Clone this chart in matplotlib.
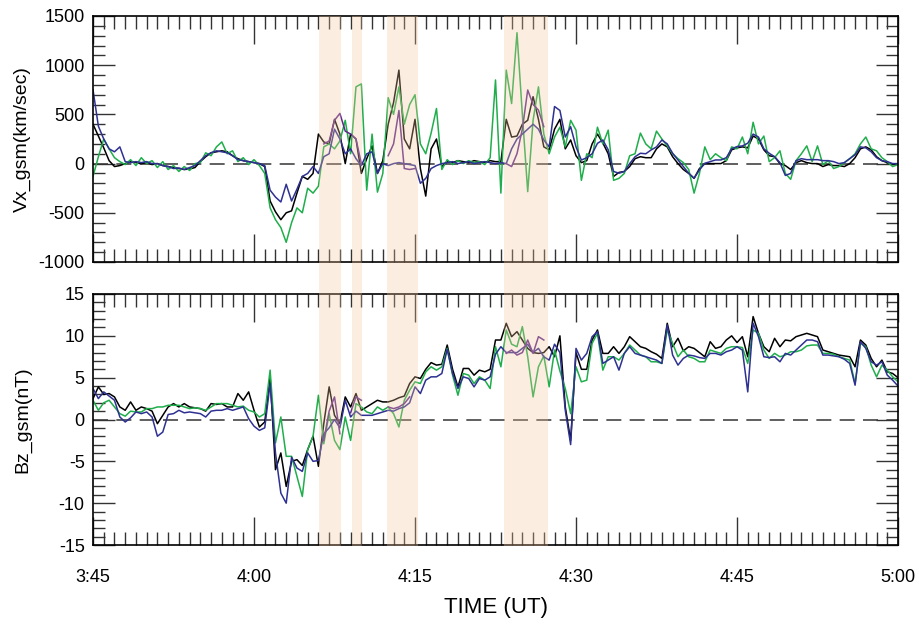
import numpy as np
import matplotlib
matplotlib.use("Agg")
import matplotlib.pyplot as plt
import matplotlib.transforms as mtransforms
from matplotlib.patches import Rectangle
from matplotlib.ticker import MultipleLocator

plt.rcParams['font.family'] = ['Liberation Sans Narrow', 'Liberation Sans', 'DejaVu Sans']
plt.rcParams['axes.unicode_minus'] = False

# minutes after 03:45 UT, 30 s cadence
minutes = np.arange(0, 75.5, 0.5)
tick_minutes = [0, 15, 30, 45, 60, 75]
tick_labels = ["3:45", "4:00", "4:15", "4:30", "4:45", "5:00"]

# shaded intervals (start, end) in minutes after 03:45
bands = [(21.06, 23.09), (24.13, 25.1), (27.4, 30.3), (38.3, 42.35)]

# Vx_gsm (km/s)
vx_black = [
    400, 280, 160, 30, -30, -20, 0, 20, 10, 0,
    10, -10, 0, -20, -30, -40, -50, -60, -55, -40,
    20, 70, 110, 120, 130, 120, 80, 50, 30, 20,
    10, 0, -30, -380, -490, -570, -500, -480, -300, -130,
    -160, -100, 300, 220, 200, 450, 300, 0, 300, 250,
    -100, 50, 180, -100, 30, 400, 620, 950, 250, 150,
    450, -50, -330, 150, 250, -30, 20, 10, 30, 20,
    10, 30, 20, 10, 30, 20, 20, 450, 270, 280,
    400, 440, 680, 450, 170, 140, 350, 450, 150, 240,
    80, 10, 30, 200, 300, 210, 100, -130, -90, -80,
    -30, 50, 70, 60, 60, 150, 200, 170, 70, 0,
    -60, -100, -150, -50, 0, 0, 0, 0, 30, 140,
    160, 170, 160, 280, 250, 140, 80, 70, 0, -20,
    -60, 10, 30, 10, 0, 0, -30, -10, -20, -20,
    -30, 0, 60, 150, 170, 140, 70, 30, 10, -10,
    0]
vx_blue = [
    750, 380, 250, 150, 120, 170, 20, 10, 20, 10,
    20, 0, 0, -20, -30, -50, -45, -60, -40, -20,
    30, 80, 110, 130, 120, 110, 80, 40, 30, 20,
    10, 0, -20, -270, -340, -390, -210, -380, -260, -130,
    -100, -30, -100, 70, 100, 350, 250, 100, 150, 50,
    -20, 100, 120, -100, 0, -20, 0, 10, 0, -10,
    -20, -200, -150, -50, -20, 0, 10, 20, 0, 10,
    20, 0, 10, 20, 10, 0, 10, 0, 150, 250,
    300, 350, 400, 350, 240, 170, 580, 540, 270, 375,
    170, 36, 60, 100, 206, 240, 140, -80, -98, -80,
    0, 70, 105, 100, 139, 170, 240, 200, 105, 37,
    -30, -98, -149, -64, 3, 20, 37, 37, 60, 150,
    173, 180, 207, 300, 270, 150, 105, 70, 10, -120,
    -100, 30, 50, 40, 40, 40, 30, 30, 20, 0,
    10, 50, 90, 170, 160, 120, 60, 30, 20, 0,
    0]
vx_green = [
    -130, 70, 250, 150, 60, 20, -10, 40, -20, 60,
    0, 30, -40, 20, -60, -20, -80, -30, -70, 0,
    10, 110, 80, 170, 220, 100, 130, 20, 60, -10,
    40, -20, -100, -450, -570, -650, -800, -600, -450, -500,
    -250, -300, -230, 170, 200, 150, 230, 440, 100, 780,
    810, -270, 300, -290, -100, 670, 500, 780, 400, 600,
    700, 200, 100, 310, 560, -60, 40, -10, 30, 0,
    30, 10, 20, -10, 60, 850, -300, 950, 610, 1330,
    500, -285, 440, 780, 300, 100, 270, 370, 170, 440,
    340, -170, 100, 60, 370, 200, 340, -170, -150, -100,
    80, 100, 310, 200, 150, 330, 250, 180, 100, 50,
    10, -60, -300, -100, 170, 40, 100, 60, 30, 170,
    150, 270, 100, 420, 200, 280, 20, 60, 130, -100,
    -160, 30, 100, 180, 20, 180, -10, 30, -50, -30,
    10, 50, 100, 200, 270, 150, 130, 60, 20, -30,
    -10]
# fourth probe, only inside the intervals (NaN breaks the line)
vx_purple_t = [21.5, 22, 22.5, 23, 23.5, 24, 24.5, 25, np.nan,
               27.5, 28, 28.5, 29, 29.5, 30, np.nan,
               38.5, 39, 39.5, 40, 40.5, 41, 41.5, 42]
vx_purple = [200, 230, 440, 510, 330, 300, 250, 0, np.nan,
             80, 200, 540, -50, -60, -50, np.nan,
             0, -30, 100, 350, 748, 600, 544, 375]

# Bz_gsm (nT)
bz_black = [
    2.5, 3.9, 3.0, 3.1, 2.7, 1.5, 1.1, 2.1, 1.1, 1.5,
    1.3, 1.0, -0.5, 0.5, 1.5, 1.9, 1.5, 1.9, 1.5, 1.4,
    1.3, 1.0, 1.9, 1.8, 1.9, 1.5, 1.5, 3.1, 2.3, 3.3,
    1.1, -0.9, -0.3, 5.1, -6.0, -4.0, -8.0, -5.0, -4.8, -5.5,
    -3.6, -2.0, -5.6, -0.5, 3.9, 0.5, -0.5, 2.7, 1.5, 3.1,
    1.1, 1.5, 1.9, 2.3, 2.1, 2.1, 2.3, 2.6, 2.8, 4.3,
    5.1, 4.9, 6.0, 6.8, 6.5, 6.6, 8.9, 6.0, 3.9, 6.1,
    6.1, 5.3, 5.9, 5.7, 6.0, 9.5, 9.5, 11.5, 9.9, 10.5,
    9.5, 8.5, 8.0, 7.9, 8.0, 8.7, 7.5, 10.0, 1.5, -2.5,
    8.0, 6.0, 6.0, 9.5, 10.7, 7.9, 7.9, 8.7, 7.9, 8.7,
    9.9, 9.3, 8.7, 8.5, 8.1, 7.8, 7.3, 11.5, 8.7, 9.7,
    8.2, 8.7, 8.5, 8.0, 7.5, 9.3, 8.5, 8.7, 9.5, 10.0,
    9.2, 9.9, 7.5, 12.3, 10.3, 8.7, 8.1, 9.7, 8.7, 9.5,
    9.4, 9.9, 10.1, 10.3, 10.1, 9.9, 8.3, 8.1, 7.9, 7.7,
    7.6, 7.5, 6.3, 9.5, 8.9, 7.3, 6.3, 7.1, 5.7, 5.5,
    5.0]
bz_blue = [
    3.7, 2.5, 3.3, 2.8, 2.3, 0.3, -0.3, 0.2, 0.9, 0.7,
    0.9, 0.3, -2.0, -1.5, 0.6, 0.7, 1.1, 0.8, 0.9, 0.8,
    0.7, 0.3, 1.0, 1.1, 1.1, 1.3, 1.1, 1.3, 1.5, 0.1,
    -0.8, -1.3, -1.0, 4.3, -4.0, -8.8, -10.0, -4.5, -5.8, -6.2,
    -4.0, -5.0, -4.9, -1.7, -1.0, 0.0, -1.0, 2.3, 0.3, 1.0,
    0.5, 0.5, 0.5, 0.7, 0.9, 1.1, 1.0, 1.3, 1.5, 2.0,
    3.9, 3.1, 4.7, 5.1, 5.1, 5.5, 8.4, 5.5, 3.7, 5.1,
    4.9, 3.9, 4.9, 4.7, 5.1, 7.8, 8.7, 8.0, 8.0, 8.0,
    8.5, 9.0, 8.0, 8.5, 7.5, 7.1, 9.0, 8.0, 1.1, -3.0,
    8.5, 7.1, 7.9, 9.9, 10.5, 6.7, 7.1, 7.5, 5.9, 7.9,
    8.7, 7.9, 7.7, 7.5, 7.3, 7.1, 6.7, 11.3, 7.7, 6.5,
    7.3, 7.7, 7.6, 7.4, 7.3, 7.9, 7.9, 7.7, 8.1, 8.3,
    8.7, 8.3, 3.3, 11.5, 9.9, 7.5, 7.4, 7.5, 6.9, 7.9,
    7.7, 8.3, 8.9, 9.5, 9.5, 9.3, 7.7, 7.7, 7.6, 7.5,
    7.2, 6.7, 4.1, 9.3, 8.5, 6.9, 6.5, 6.9, 5.3, 4.7,
    4.0]
bz_green = [
    2.3, 1.1, 2.0, 2.3, 1.5, 0.7, 0.4, 1.0, 0.9, 0.9,
    1.3, 1.3, 1.5, 1.5, 1.7, 1.7, 1.7, 1.5, 1.3, 1.4,
    1.3, 1.1, 1.5, 1.9, 1.9, 1.9, 1.7, 1.5, 1.6, 1.1,
    0.9, 0.3, 0.7, 5.9, -2.8, 0.3, -4.4, -4.4, -6.8, -9.2,
    -3.6, -2.0, 2.9, -2.9, 0.7, -2.5, -3.6, 0.3, -2.5, 1.9,
    1.5, 0.9, 0.7, 1.5, 1.1, 1.5, 0.7, -0.9, 2.3, 3.5,
    4.5, 4.3, 5.7, 6.3, 5.9, 6.3, 8.5, 5.3, 2.9, 5.5,
    5.3, 4.3, 5.1, 4.7, 3.7, 8.7, 6.3, 10.7, 9.0, 8.7,
    11.1, 7.5, 2.7, 6.3, 7.6, 3.9, 8.3, 5.8, 3.7, 0.7,
    6.3, 4.5, 4.7, 9.1, 10.3, 5.9, 7.5, 7.5, 7.1, 7.9,
    8.9, 8.3, 7.7, 7.5, 6.9, 6.9, 6.7, 10.7, 9.1, 7.5,
    8.3, 7.5, 7.3, 6.9, 6.9, 8.3, 8.1, 7.9, 8.5, 8.7,
    8.7, 8.6, 6.7, 10.7, 10.3, 8.3, 7.3, 7.9, 7.5, 7.7,
    8.1, 8.1, 8.3, 8.8, 8.9, 8.9, 7.9, 7.9, 7.8, 7.5,
    7.3, 7.1, 4.3, 9.1, 8.7, 6.5, 5.1, 6.5, 5.9, 5.1,
    4.5]
bz_purple_t = [21.5, 22, 22.5, 23, np.nan, 24, 24.5, 25, np.nan,
               27.5, 28, 28.5, 29, 29.5, np.nan,
               38.5, 39, 39.5, 40, 40.5, 41, 41.5, 42]
bz_purple = [-2.5, 1.0, 2.7, -1.7, np.nan, 0.8, 2.7, 2.3, np.nan,
             1.5, 1.3, 1.5, 1.9, 2.7, np.nan,
             7.9, 8.3, 7.7, 8.0, 9.5, 7.9, 9.9, 9.5]

BLACK = "#000000"
BLUE = "#2e3192"
GREEN = "#1fae4b"
PURPLE = "#5b2a8c"


def style_axis(ax, ymin, ymax, major, minor):
    ax.set_xlim(0, 75)
    ax.set_ylim(ymin, ymax)
    ax.xaxis.set_major_locator(MultipleLocator(15))
    ax.xaxis.set_minor_locator(MultipleLocator(1))
    ax.yaxis.set_major_locator(MultipleLocator(major))
    ax.yaxis.set_minor_locator(MultipleLocator(minor))
    ax.tick_params(axis='x', which='both', direction='in', top=True, bottom=True,
                   color='#333333', width=1.0)
    ax.tick_params(axis='x', which='major', length=20)
    ax.tick_params(axis='x', which='minor', length=9.5)
    ax.tick_params(axis='y', which='both', direction='in', left=True, right=True,
                   color='#333333', width=1.0)
    ax.tick_params(axis='y', which='major', length=16, labelsize=13, pad=6)
    ax.tick_params(axis='y', which='minor', length=8.5)
    for sp in ax.spines.values():
        sp.set_linewidth(1.2)
    ax.axhline(0, color='#444444', lw=1.2, ls=(0, (9, 5)), zorder=1)


fig = plt.figure(figsize=(9.2, 6.25), dpi=100)
ax1 = fig.add_axes([0.1011, 0.5808, 0.875, 0.3936])
ax2 = fig.add_axes([0.1011, 0.128, 0.875, 0.4016])

# velocity panel
style_axis(ax1, -1000, 1500, 500, 100)
ax1.plot(minutes, vx_black, color=BLACK, lw=1.1)
ax1.plot(minutes, vx_green, color=GREEN, lw=1.1)
ax1.plot(minutes, vx_blue, color=BLUE, lw=1.1)
ax1.plot(vx_purple_t, vx_purple, color=PURPLE, lw=1.1)
ax1.set_xticks(tick_minutes)
ax1.tick_params(axis='x', labelbottom=False)
ax1.set_ylabel("Vx_gsm(km/sec)", fontsize=14)
ax1.yaxis.set_label_coords(-0.077, 0.5)

# field panel
style_axis(ax2, -15, 15, 5, 1)
ax2.plot(minutes, bz_black, color=BLACK, lw=1.1)
ax2.plot(minutes, bz_green, color=GREEN, lw=1.1)
ax2.plot(minutes, bz_blue, color=BLUE, lw=1.1)
ax2.plot(bz_purple_t, bz_purple, color=PURPLE, lw=1.1)
ax2.set_xticks(tick_minutes, labels=tick_labels)
ax2.tick_params(axis='x', which='major', labelsize=13, pad=17)
ax2.set_ylabel("Bz_gsm(nT)", fontsize=14)
ax2.yaxis.set_label_coords(-0.077, 0.5)
ax2.set_xlabel("TIME (UT)", fontsize=16, labelpad=8)

# shaded intervals running through both panels, drawn over the traces
trans = mtransforms.blended_transform_factory(ax2.transData, fig.transFigure)
for t0, t1 in bands:
    fig.add_artist(Rectangle((t0, 0.1264), t1 - t0, 0.9744 - 0.1264, transform=trans,
                             facecolor='#f8c69e', edgecolor='none', alpha=0.3, zorder=5))

fig.savefig("out.png", dpi=100)
